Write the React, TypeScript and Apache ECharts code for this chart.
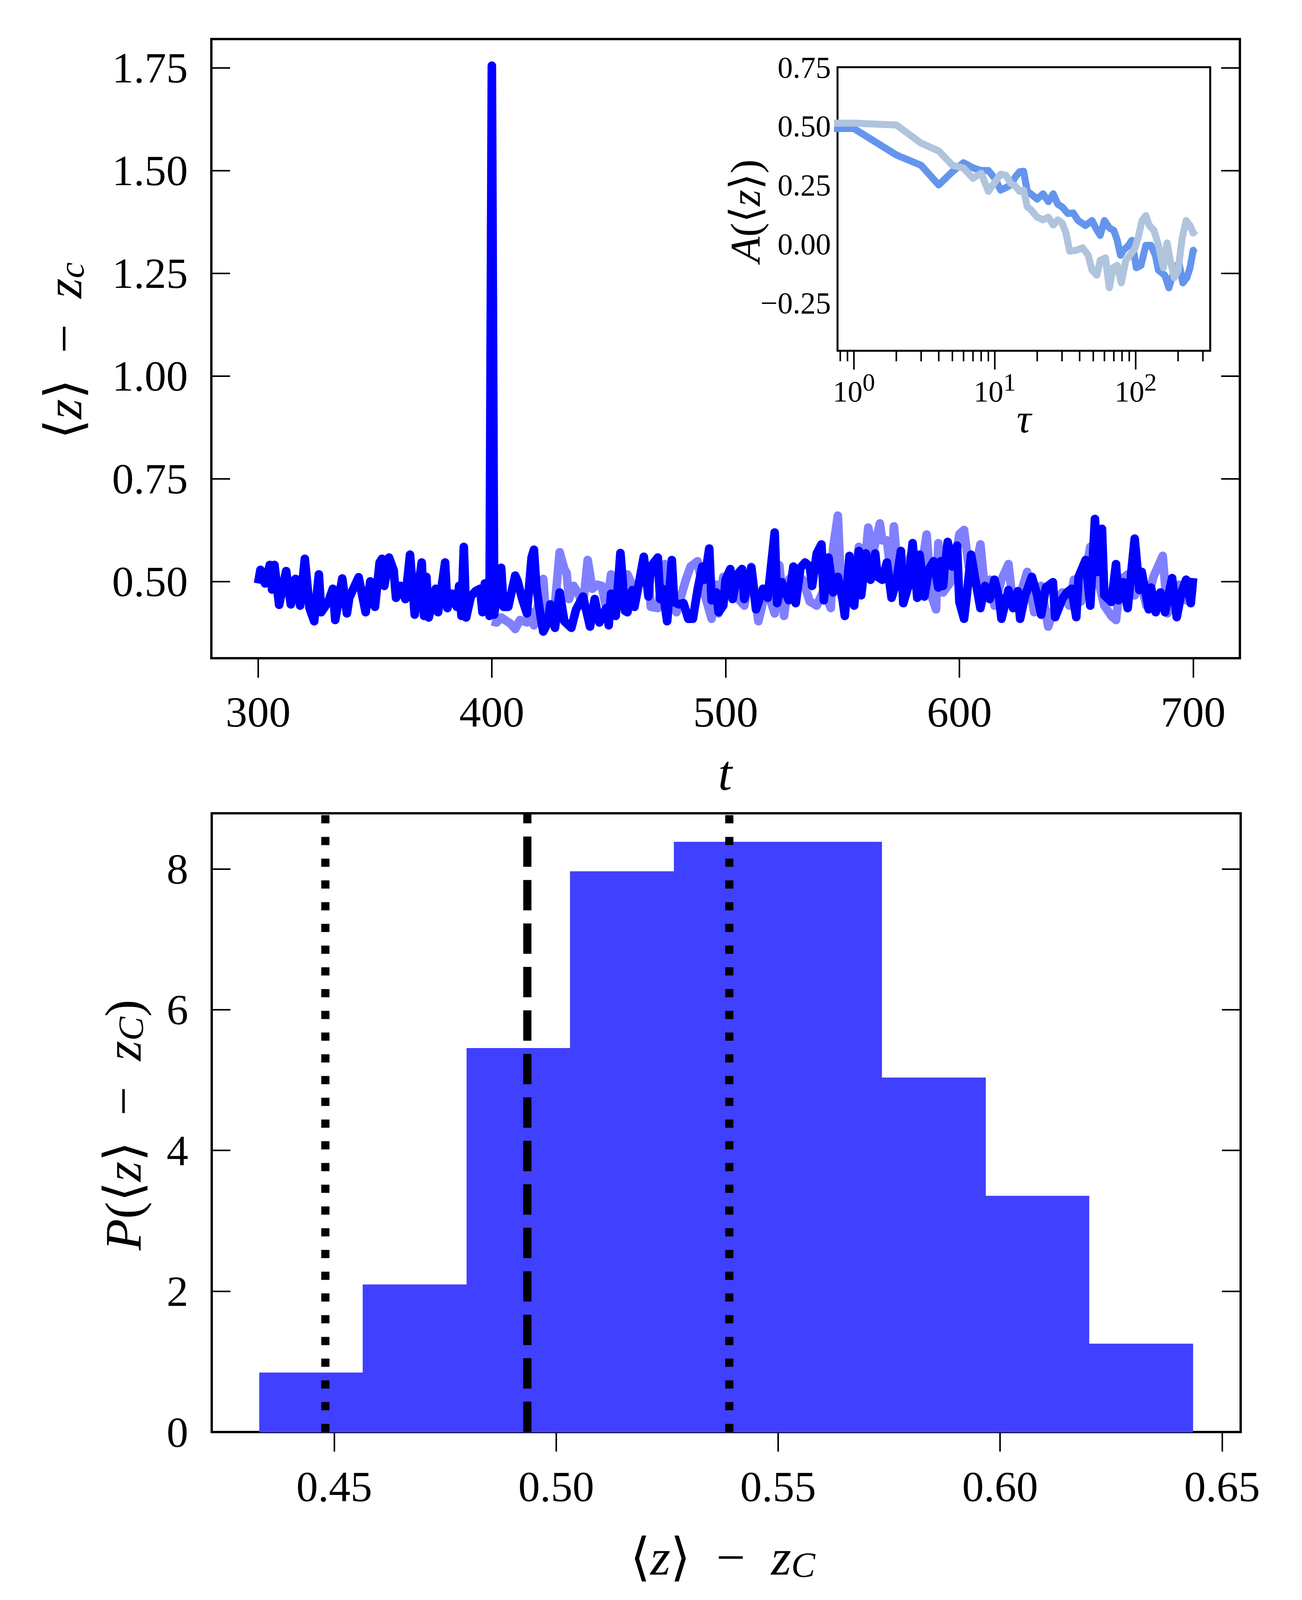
import React, { useEffect, useRef } from "react";
import * as echarts from "echarts";

// ---------- top panel: <z> - z_c versus t ----------
const TIME_DARK = [
  300, 301, 303, 305, 306, 307, 309, 312, 314, 316, 318, 320, 322, 324, 326, 327, 330, 332, 333, 336,
  338, 339, 343, 346, 348, 350, 352, 353, 354, 356, 358, 359, 361, 363, 365, 367, 370, 371, 372, 373,
  376, 377, 380, 381, 383, 385, 386, 387, 388, 389, 391, 393, 395, 396, 397, 399, 400, 401, 402, 404,
  405, 407, 410, 411, 413, 415, 417, 418, 419, 421, 422, 424, 425, 427, 429, 431, 434, 436, 439, 442,
  444, 446, 449, 450, 451, 453, 455, 457, 458, 460, 461, 463, 465, 467, 468, 471, 472, 473, 475, 477,
  478, 480, 482, 484, 486, 488, 490, 491, 493, 494, 496, 497, 499, 500, 502, 503, 505, 507, 508, 511,
  513, 516, 518, 521, 522, 524, 527, 529, 530, 532, 534, 536, 537, 539, 541, 542, 544, 546, 548, 550,
  551, 553, 555, 557, 558, 560, 562, 564, 565, 567, 569, 571, 573, 575, 576, 578, 580, 582, 583, 585,
  587, 589, 591, 592, 593, 595, 597, 599, 600, 602, 603, 605, 607, 609, 611, 613, 615, 617, 618, 621,
  623, 625, 626, 628, 631, 633, 635, 637, 640, 641, 644, 646, 648, 650, 651, 654, 656, 658, 659, 661,
  662, 665, 667, 668, 670, 672, 675, 677, 678, 681, 682, 684, 686, 688, 691, 693, 695, 697, 699, 700,
];
const VALUE_DARK = [
  0.495, 0.528, 0.495, 0.54, 0.48, 0.54, 0.443, 0.525, 0.444, 0.506, 0.441, 0.555, 0.435, 0.403, 0.517, 0.425, 0.45, 0.482, 0.406, 0.507,
  0.422, 0.46, 0.51, 0.425, 0.5, 0.438, 0.546, 0.555, 0.489, 0.558, 0.527, 0.46, 0.489, 0.457, 0.565, 0.419, 0.546, 0.416, 0.511, 0.412,
  0.482, 0.425, 0.546, 0.435, 0.47, 0.438, 0.489, 0.416, 0.584, 0.412, 0.463, 0.476, 0.482, 0.425, 0.495, 0.416, 1.755, 0.419, 0.463, 0.533,
  0.438, 0.438, 0.514, 0.501, 0.457, 0.422, 0.558, 0.577, 0.489, 0.409, 0.378, 0.4, 0.444, 0.387, 0.473, 0.403, 0.387, 0.431, 0.463, 0.39,
  0.457, 0.4, 0.435, 0.393, 0.47, 0.416, 0.569, 0.428, 0.425, 0.479, 0.438, 0.498, 0.56, 0.463, 0.536, 0.558, 0.457, 0.482, 0.403, 0.552,
  0.45, 0.444, 0.447, 0.409, 0.409, 0.479, 0.536, 0.504, 0.58, 0.454, 0.473, 0.425, 0.441, 0.504, 0.53, 0.457, 0.517, 0.53, 0.457, 0.533,
  0.432, 0.482, 0.46, 0.619, 0.447, 0.498, 0.454, 0.536, 0.447, 0.533, 0.546, 0.536, 0.489, 0.568, 0.59, 0.454, 0.558, 0.473, 0.511, 0.457,
  0.416, 0.562, 0.441, 0.574, 0.466, 0.568, 0.504, 0.568, 0.511, 0.504, 0.546, 0.46, 0.498, 0.574, 0.447, 0.485, 0.593, 0.46, 0.565, 0.463,
  0.53, 0.549, 0.485, 0.549, 0.489, 0.596, 0.536, 0.587, 0.45, 0.409, 0.457, 0.565, 0.498, 0.435, 0.489, 0.457, 0.504, 0.46, 0.409, 0.479,
  0.435, 0.476, 0.409, 0.463, 0.511, 0.473, 0.419, 0.485, 0.498, 0.413, 0.457, 0.473, 0.482, 0.413, 0.511, 0.552, 0.441, 0.652, 0.523, 0.628,
  0.466, 0.45, 0.542, 0.454, 0.498, 0.435, 0.604, 0.479, 0.523, 0.432, 0.485, 0.425, 0.473, 0.425, 0.508, 0.413, 0.473, 0.504, 0.447, 0.508,
];
const TIME_LIGHT = [
  400, 402, 404, 408, 410, 412, 415, 417, 418, 422, 423, 425, 427, 429, 431, 432, 433, 435, 437, 439,
  441, 443, 445, 447, 449, 451, 453, 455, 457, 458, 460, 462, 464, 467, 468, 471, 474, 477, 479, 483,
  485, 488, 490, 494, 496, 497, 499, 501, 503, 506, 508, 511, 514, 517, 519, 521, 523, 525, 527, 530,
  533, 536, 539, 542, 545, 546, 548, 549, 551, 555, 557, 559, 561, 563, 566, 567, 569, 571, 572, 574,
  577, 580, 583, 586, 588, 590, 591, 593, 597, 600, 602, 604, 606, 609, 611, 613, 615, 618, 621, 623,
  626, 629, 632, 635, 638, 641, 644, 647, 649, 652, 654, 656, 659, 662, 665, 667, 669, 672, 675, 677,
  680, 683, 687, 689, 691, 694, 697, 700,
];
const VALUE_LIGHT = [
  0.403, 0.4, 0.412, 0.397, 0.384, 0.406, 0.4, 0.425, 0.393, 0.506, 0.425, 0.438, 0.444, 0.571, 0.53, 0.52, 0.457, 0.489, 0.47, 0.441,
  0.552, 0.482, 0.492, 0.489, 0.432, 0.517, 0.476, 0.441, 0.508, 0.517, 0.492, 0.476, 0.511, 0.514, 0.438, 0.435, 0.542, 0.441, 0.425, 0.504,
  0.536, 0.549, 0.489, 0.409, 0.492, 0.422, 0.511, 0.511, 0.489, 0.454, 0.441, 0.536, 0.403, 0.473, 0.457, 0.422, 0.539, 0.416, 0.504, 0.52,
  0.504, 0.451, 0.441, 0.479, 0.435, 0.581, 0.66, 0.536, 0.441, 0.504, 0.584, 0.504, 0.631, 0.568, 0.641, 0.6, 0.6, 0.504, 0.634, 0.504,
  0.523, 0.577, 0.504, 0.614, 0.466, 0.432, 0.593, 0.473, 0.504, 0.615, 0.625, 0.536, 0.504, 0.59, 0.473, 0.504, 0.441, 0.504, 0.542, 0.441,
  0.466, 0.523, 0.425, 0.489, 0.39, 0.441, 0.473, 0.441, 0.504, 0.451, 0.52, 0.584, 0.511, 0.441, 0.416, 0.406, 0.504, 0.517, 0.466, 0.511,
  0.441, 0.511, 0.562, 0.422, 0.454, 0.492, 0.454, 0.482,
];
const TIME_TICKS = [300, 400, 500, 600, 700];
const TOP_Y_TICKS = [0.5, 0.75, 1.0, 1.25, 1.5, 1.75];

// ---------- inset: autocorrelation A(<z>) versus tau ----------
const TAU_A = [
  0.7, 1, 2, 3, 4, 5, 6, 7, 8, 9, 10, 11, 12, 13, 14, 15, 16, 17, 18, 20,
  22, 24, 26, 28, 30, 33, 36, 39, 44, 49, 52, 56, 60, 65, 70, 74, 78, 82, 89, 94,
  101, 109, 118, 128, 138, 145, 161, 172, 188, 203, 216, 231, 243, 256, 262,
];
const ACF_A = [
  0.49, 0.49, 0.378, 0.334, 0.251, 0.307, 0.345, 0.323, 0.312, 0.312, 0.279, 0.229, 0.24, 0.251, 0.285, 0.307, 0.309, 0.224, 0.213, 0.191,
  0.213, 0.18, 0.213, 0.169, 0.158, 0.13, 0.132, 0.1, 0.079, 0.1, 0.069, 0.037, 0.1, 0.069, 0.058, 0.016, -0.047, -0.026, -0.005, 0.016,
  -0.1, -0.09, -0.005, -0.005, -0.047, -0.11, -0.132, -0.185, -0.11, -0.079, -0.164, -0.142, -0.1, -0.026, -0.037,
];
const TAU_B = [
  0.7, 1, 2, 3, 4, 5, 6, 7, 8, 9, 10, 11, 12, 13, 14, 15, 16, 17, 18, 20,
  22, 24, 26, 28, 30, 32, 34, 38, 42, 46, 49, 53, 56, 61, 65, 69, 74, 79, 85, 91,
  99, 104, 111, 118, 125, 135, 145, 157, 167, 176, 188, 200, 214, 228, 243, 256, 266,
];
const ACF_B = [
  0.513, 0.513, 0.505, 0.428, 0.395, 0.334, 0.323, 0.279, 0.301, 0.224, 0.262, 0.296, 0.292, 0.257, 0.246, 0.224, 0.229, 0.158, 0.147, 0.114,
  0.103, 0.114, 0.081, 0.103, 0.09, 0.047, -0.03, -0.026, -0.016, -0.047, -0.11, -0.132, -0.069, -0.058, -0.185, -0.1, -0.09, -0.164, -0.069, -0.047,
  -0.016, 0.026, 0.1, 0.121, 0.079, 0.058, -0.005, -0.1, 0.005, -0.069, -0.142, -0.11, 0.026, 0.1, 0.079, 0.047, 0.058,
];
const TAU_MAJOR_TICKS = [1, 10, 100];
const TAU_MINOR_TICKS = [0.8, 0.9, 2, 3, 4, 5, 6, 7, 8, 9, 20, 30, 40, 50, 60, 70, 80, 90, 200, 300];
const INSET_Y_TICKS = [-0.25, 0, 0.25, 0.5, 0.75];

// ---------- bottom panel: histogram P(<z> - z_C) ----------
const BIN_EDGES = [0.4332, 0.4565, 0.4799, 0.5032, 0.5266, 0.55, 0.5733, 0.5967, 0.62, 0.6434];
const BIN_DENSITY = [0.84, 2.09, 5.45, 7.96, 8.38, 8.38, 5.03, 3.35, 1.25];
const MEAN_VALUE = 0.4935;
const SPREAD_VALUES = [0.448, 0.539];
const HIST_X_TICKS = [0.45, 0.5, 0.55, 0.6, 0.65];
const HIST_Y_TICKS = [0, 2, 4, 6, 8];

// axis ranges
const TOP_X_RANGE = [280, 720];
const TOP_Y_RANGE = [0.313, 1.82];
const TAU_RANGE = [0.765, 338];
const INSET_Y_RANGE = [-0.452, 0.75];
const HIST_X_RANGE = [0.4224, 0.6542];
const HIST_Y_RANGE = [0, 8.79];

const FONT = "'Liberation Serif', 'DejaVu Serif', 'DejaVu Sans', serif";

function yPair(grid: number, range: number[], ticks: number[], fmt: (v: number) => string, fontSize: number, margin: number, tickLen: number) {
  const tick = { show: true, inside: true, length: tickLen, customValues: ticks, lineStyle: { color: "#000", width: 4 } };
  return [
    {
      type: "value", gridIndex: grid, position: "left", min: range[0], max: range[1],
      axisLine: { show: false }, splitLine: { show: false }, axisTick: tick,
      axisLabel: { customValues: ticks, formatter: fmt, fontSize, fontFamily: FONT, color: "#000", margin },
    },
    {
      type: "value", gridIndex: grid, position: "right", min: range[0], max: range[1],
      axisLine: { show: false }, splitLine: { show: false }, axisTick: tick,
      axisLabel: { show: false },
    },
  ];
}

const fmt2 = (v: number) => (v < 0 ? "\u2212" : "") + Math.abs(v).toFixed(2);

function buildOption() {
  const italic = (size: number) => ({ fontSize: size, fontStyle: "italic", fontFamily: FONT, fill: "#000" });
  const sub = (size: number, lh: number) => ({ fontSize: size, fontStyle: "italic", fontFamily: FONT, fill: "#000", verticalAlign: "bottom", lineHeight: lh });

  const label = (x: number, y: number, text: string, size: number, rotated: boolean, subSize = 0, subLh = 0) => ({
    type: "text",
    x, y,
    rotation: rotated ? Math.PI / 2 : 0,
    style: {
      text,
      fontSize: size,
      fontFamily: FONT,
      fill: "#000",
      align: "center",
      verticalAlign: "middle",
      rich: { i: italic(size), sub: sub(subSize || size * 0.7, subLh || size * 0.48) },
    },
    z: 100,
  });

  const tickSeriesData = [
    ...TAU_MAJOR_TICKS.map((v) => [v, 1]),
    ...TAU_MINOR_TICKS.map((v) => [v, 0]),
  ];

  const SP = "\u2002";

  return {
    animation: false,
    backgroundColor: "#fff",
    grid: [
      { left: 541, top: 100, width: 2633, height: 1585, show: true, borderColor: "#000", borderWidth: 6, backgroundColor: "transparent", z: 0 },
      { left: 2144, top: 172, width: 954, height: 726, show: true, borderColor: "#000", borderWidth: 5, backgroundColor: "#fff", z: 1 },
      { left: 542, top: 2082, width: 2634, height: 1584, show: true, borderColor: "#000", borderWidth: 6, backgroundColor: "transparent", z: 0 },
    ],
    xAxis: [
      {
        type: "value", gridIndex: 0, min: TOP_X_RANGE[0], max: TOP_X_RANGE[1],
        axisLine: { show: false }, splitLine: { show: false },
        axisTick: { show: true, length: 50, customValues: TIME_TICKS, lineStyle: { color: "#000", width: 4 } },
        axisLabel: { customValues: TIME_TICKS, formatter: (v: number) => String(v), fontSize: 111, fontFamily: FONT, color: "#000", margin: 82 },
      },
      {
        type: "log", logBase: 10, gridIndex: 1, min: TAU_RANGE[0], max: TAU_RANGE[1],
        axisLine: { show: false }, splitLine: { show: false }, axisTick: { show: false },
        axisLabel: {
          customValues: TAU_MAJOR_TICKS,
          formatter: (v: number) => `{b|10}{s|${Math.round(Math.log10(v))}}`,
          margin: 48,
          rich: {
            b: { fontSize: 76, fontFamily: FONT, color: "#000", verticalAlign: "bottom", lineHeight: 94 },
            s: { fontSize: 64, fontFamily: FONT, color: "#000", verticalAlign: "top", lineHeight: 48 },
          },
        },
      },
      {
        type: "value", gridIndex: 2, min: HIST_X_RANGE[0], max: HIST_X_RANGE[1],
        axisLine: { show: false }, splitLine: { show: false },
        axisTick: { show: true, length: 50, customValues: HIST_X_TICKS, lineStyle: { color: "#000", width: 4 } },
        axisLabel: { customValues: HIST_X_TICKS, formatter: fmt2, fontSize: 111, fontFamily: FONT, color: "#000", margin: 84 },
      },
    ],
    yAxis: [
      ...yPair(0, TOP_Y_RANGE, TOP_Y_TICKS, fmt2, 111, 60, 48),
      ...yPair(1, INSET_Y_RANGE, INSET_Y_TICKS, fmt2, 78, 17, 47),
      ...yPair(2, HIST_Y_RANGE, HIST_Y_TICKS, (v: number) => String(v), 111, 60, 48),
    ],
    series: [
      {
        type: "line", name: "run2", xAxisIndex: 0, yAxisIndex: 0, showSymbol: false, symbol: "none",
        data: TIME_LIGHT.map((t, i) => [t, VALUE_LIGHT[i]]),
        lineStyle: { color: "#8080FF", width: 22, join: "round", cap: "butt" }, z: 2, silent: true,
      },
      {
        type: "line", name: "run1", xAxisIndex: 0, yAxisIndex: 0, showSymbol: false, symbol: "none",
        data: TIME_DARK.map((t, i) => [t, VALUE_DARK[i]]),
        lineStyle: { color: "#0000FF", width: 22, join: "round", cap: "butt" }, z: 3, silent: true,
      },
      {
        type: "line", name: "acf1", xAxisIndex: 1, yAxisIndex: 2, showSymbol: false, symbol: "none",
        data: TAU_A.map((t, i) => [t, ACF_A[i]]),
        lineStyle: { color: "#6495ED", width: 18, join: "round" }, z: 4, silent: true,
      },
      {
        type: "line", name: "acf2", xAxisIndex: 1, yAxisIndex: 2, showSymbol: false, symbol: "none",
        data: TAU_B.map((t, i) => [t, ACF_B[i]]),
        lineStyle: { color: "#B0C4DE", width: 18, join: "round" }, z: 5, silent: true,
      },
      {
        type: "custom", name: "tauTicks", xAxisIndex: 1, yAxisIndex: 2, clip: false, silent: true, z: 6,
        data: tickSeriesData,
        encode: { x: 0 },
        renderItem: (params: any, api: any) => {
          const p = api.coord([api.value(0), INSET_Y_RANGE[0]]);
          const len = api.value(1) ? 48 : 27;
          return {
            type: "line",
            shape: { x1: p[0], y1: p[1], x2: p[0], y2: p[1] + len },
            style: { stroke: "#000", lineWidth: 4 },
          };
        },
      },
      {
        type: "custom", name: "hist", xAxisIndex: 2, yAxisIndex: 4, silent: true, z: 2,
        data: BIN_DENSITY.map((h, i) => [BIN_EDGES[i], BIN_EDGES[i + 1], h]),
        encode: { x: [0, 1], y: 2 },
        renderItem: (params: any, api: any) => {
          const p0 = api.coord([api.value(0), 0]);
          const p1 = api.coord([api.value(1), api.value(2)]);
          return {
            type: "rect",
            shape: { x: p0[0], y: p1[1], width: p1[0] - p0[0], height: p0[1] - p1[1] },
            style: { fill: "#4040FF", stroke: "#4040FF", lineWidth: 2 },
          };
        },
      },
      ...SPREAD_VALUES.map((v, k) => ({
        type: "line", name: "spread" + k, xAxisIndex: 2, yAxisIndex: 4, showSymbol: false, symbol: "none", silent: true, z: 5,
        data: [[v, HIST_Y_RANGE[0]], [v, HIST_Y_RANGE[1]]],
        lineStyle: { color: "#000", width: 21, type: [21, 34.65], cap: "butt" },
      })),
      {
        type: "line", name: "mean", xAxisIndex: 2, yAxisIndex: 4, showSymbol: false, symbol: "none", silent: true, z: 5,
        data: [[MEAN_VALUE, HIST_Y_RANGE[0]], [MEAN_VALUE, HIST_Y_RANGE[1]]],
        lineStyle: { color: "#000", width: 21, type: [77.7, 33.6], cap: "butt" },
      },
    ],
    graphic: [
      label(163, 898, `\u27E8{i|z}\u27E9${SP}\u2212${SP}{i|z}{sub|c}`, 132, true, 92, 62),
      label(1856, 1979, "{i|t}", 128, false),
      label(1908, 540, "{i|A}(\u27E8{i|z}\u27E9)", 108, true),
      label(2621, 1071, "{i|\u03C4}", 104, false),
      label(315, 2880, `{i|P}(\u27E8{i|z}\u27E9${SP}\u2212${SP}{i|z}{sub|C})`, 132, true, 92, 62),
      label(1850, 3986, `\u27E8{i|z}\u27E9${SP}\u2212${SP}{i|z}{sub|C}`, 132, false, 92, 62),
    ],
  };
}

export default function App() {
  const ref = useRef<HTMLDivElement>(null);
  useEffect(() => {
    if (!ref.current) return;
    const chart = echarts.init(ref.current, null, { renderer: "svg" });
    chart.setOption(buildOption() as any);
    return () => chart.dispose();
  }, []);
  return (
    <div
      ref={ref}
      style={{ position: "absolute", left: 0, top: 0, width: 3333, height: 4137, background: "#fff" }}
    />
  );
}
